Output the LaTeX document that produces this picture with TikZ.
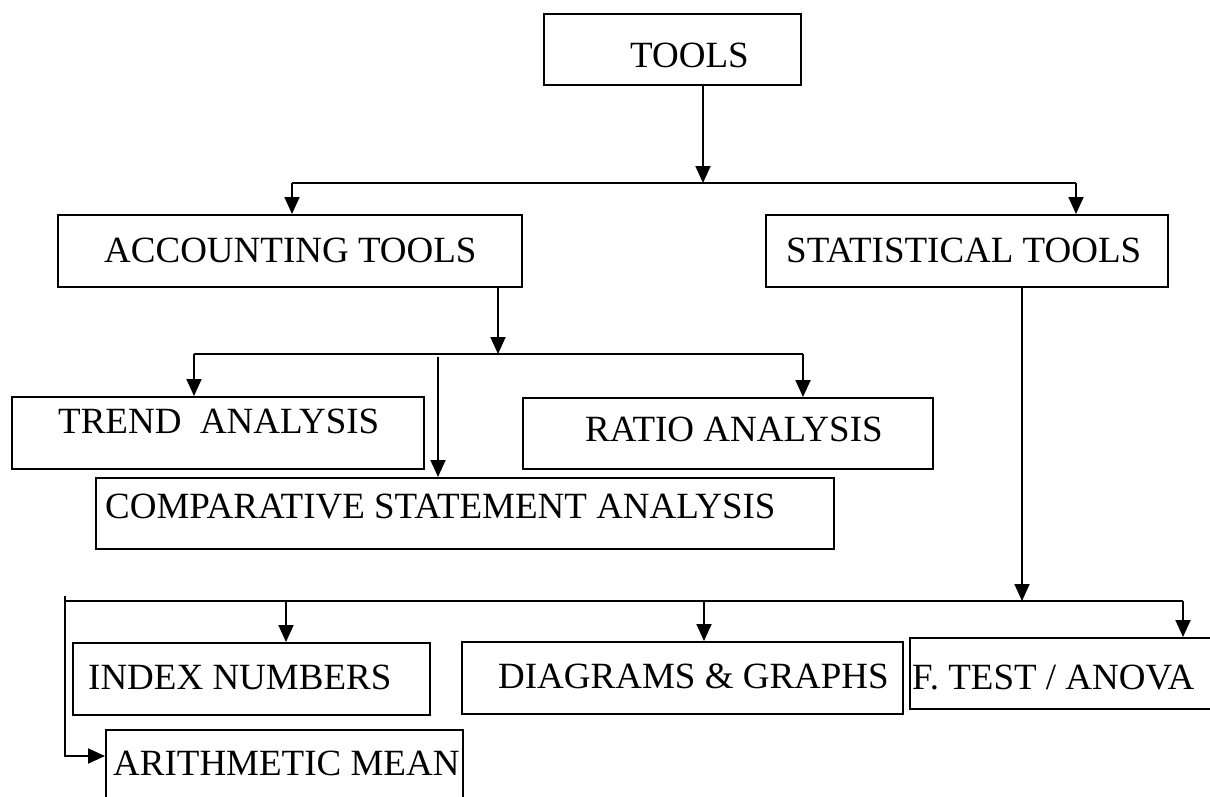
\documentclass[tikz,border=0pt]{standalone}
\usepackage{fontspec}
\setmainfont{Liberation Serif}
\usetikzlibrary{arrows.meta}
\tikzset{
  box/.style={draw, line width=1.8pt, rectangle, inner sep=0pt, anchor=north west},
  lbl/.style={inner sep=0pt, anchor=base west, font=\fontsize{37}{44}\selectfont},
  conn/.style={line width=1.8pt},
  arr/.style={line width=1.8pt, -{Triangle[length=17pt,width=15pt]}}
}
\begin{document}
\begin{tikzpicture}[x=1pt,y=-1pt]
\useasboundingbox (0,0) rectangle (1210,796);
\clip (0,0) rectangle (1210,796);
\fill[white] (0,0) rectangle (1210,796);
% boxes
\node[box, minimum width=257pt, minimum height=71pt] (tools) at (543,13) {};
\node[box, minimum width=464pt, minimum height=72pt] (acc) at (57,214) {};
\node[box, minimum width=402pt, minimum height=72pt] (stat) at (765,214) {};
\node[box, minimum width=412pt, minimum height=72pt] (trend) at (11,396) {};
\node[box, minimum width=410pt, minimum height=71pt] (ratio) at (522,397) {};
\node[box, minimum width=738pt, minimum height=71pt] (comp) at (95,477) {};
\node[box, minimum width=357pt, minimum height=72pt] (idx) at (72,642) {};
\node[box, minimum width=441pt, minimum height=72pt] (diag) at (461,641) {};
\node[box, minimum width=320pt, minimum height=71pt] (ftest) at (909,637) {};
\node[box, minimum width=357pt, minimum height=80pt] (arith) at (105,729) {};
% labels
\node[lbl] (tTools) at (630,67) {TOOLS};
\node[lbl] (tAcc) at (104,262) {ACCOUNTING TOOLS};
\node[lbl] (tStat) at (786,262) {STATISTICAL TOOLS};
\node[lbl] (tTrend) at (58,433) {TREND\ \ ANALYSIS};
\node[lbl] (tRatio) at (585,441) {RATIO ANALYSIS};
\node[lbl] (tComp) at (105,518) {COMPARATIVE STATEMENT ANALYSIS};
\node[lbl] (tIdx) at (88,689) {INDEX NUMBERS};
\node[lbl] (tDiag) at (498,688) {DIAGRAMS \& GRAPHS};
\node[lbl] (tFtest) at (912,689) {F. TEST / ANOVA};
\node[lbl] (tArith) at (113,775) {ARITHMETIC MEAN};
% level 1
\coordinate (h1L) at (292,183);
\coordinate (h1M) at (703,183);
\coordinate (h1R) at (1076,183);
\draw[arr] (tools.south -| h1M) -- (h1M);
\draw[conn] (h1L) -- (h1R);
\draw[arr] (h1L) -- (acc.north -| h1L);
\draw[arr] (h1R) -- (stat.north -| h1R);
% level 2
\coordinate (h2L) at (194,354);
\coordinate (h2M) at (498,354);
\coordinate (h2R) at (803,354);
\coordinate (c3) at (438,357);
\draw[arr] (acc.south -| h2M) -- (h2M);
\draw[conn] (h2L) -- (h2R);
\draw[arr] (h2L) -- (trend.north -| h2L);
\draw[arr] (h2R) -- (ratio.north -| h2R);
\draw[arr] (c3) -- (comp.north -| c3);
% level 3
\coordinate (h3L) at (65,601);
\coordinate (h3M) at (1022,601);
\coordinate (h3R) at (1183,601);
\coordinate (h3top) at (65,596);
\coordinate (h3a) at (65,756);
\coordinate (h3i) at (286,601);
\coordinate (h3d) at (704,601);
\draw[arr] (stat.south -| h3M) -- (h3M);
\draw[conn] (h3L) -- (h3R);
\draw[arr] (h3i) -- (idx.north -| h3i);
\draw[arr] (h3d) -- (diag.north -| h3d);
\draw[arr] (h3R) -- (ftest.north -| h3R);
\draw[arr] (h3top) -- (h3a) -- (arith.west |- h3a);
\end{tikzpicture}
\end{document}
